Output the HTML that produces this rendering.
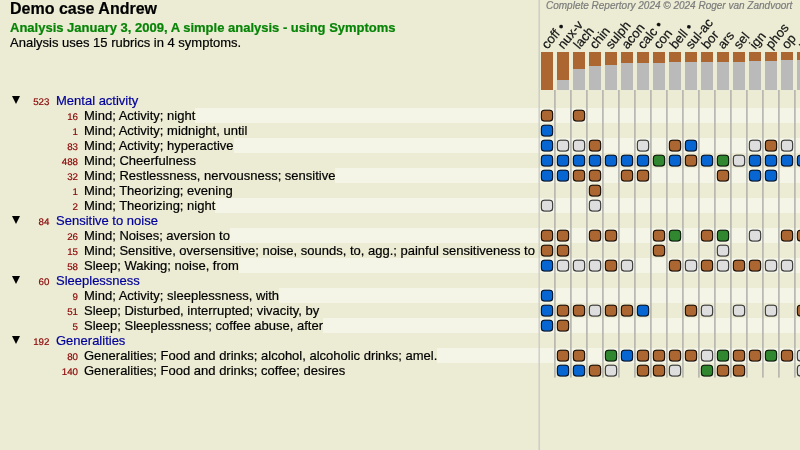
<!DOCTYPE html><html><head><meta charset="utf-8"><title>Analysis</title><style>
html,body{margin:0;padding:0}
body{width:800px;height:450px;overflow:hidden;background:#ecebd4;font-family:"Liberation Sans",Arial,Helvetica,sans-serif;position:relative;color:#000;-webkit-text-stroke:0.2px}
div,span{position:absolute;white-space:nowrap}
.t1{left:10px;top:-1px;font-size:16px;font-weight:bold;line-height:19px}
.t2{left:10px;top:20px;font-size:13px;font-weight:bold;color:#068406;line-height:15px}
.t3{left:10px;top:35px;font-size:13px;line-height:15px}
.st{left:0;width:800px;height:15px;background:#f5f5e7}
.tx{font-size:13px;line-height:15px;height:15px;background:#ecebd4;left:0;padding-left:84px}
.hd{font-size:13px;line-height:15px;height:15px;left:56px;color:#000099}
.nm{text-rendering:geometricPrecision;font-size:10px;line-height:15px;height:15px;color:#8a0808;transform:scale(0.975,0.96);transform-origin:100% 72%;text-align:right;width:40px}
.nh{transform:translateX(0.45px) scale(0.975,0.96)}
.tri{left:12px;width:0;height:0;border-left:4px solid transparent;border-right:4px solid transparent;border-top:8px solid #000}
.vl{width:1.6px;background:#b2b2ac;top:90px;height:288px}
.c{box-sizing:border-box;width:12.2px;height:11.8px;border:1px solid #222;border-radius:3.5px;box-shadow:0 0 1px rgba(0,0,0,.45)}
.bar{width:12px;top:52px;height:38px;background:#bababa}
.bar i{display:block;background:#ab6632;width:12px}
.lb{font-size:13px;line-height:13px;transform-origin:0 100%;transform:rotate(-50.5deg);color:#111}
.cr{left:546px;top:0px;font-size:10px;line-height:12px;font-style:italic;color:#7c7c7c}

</style></head><body>
<div class="t1">Demo case Andrew</div>
<div class="t2">Analysis January 3, 2009, A simple analysis - using Symptoms</div>
<div class="t3">Analysis uses 15 rubrics in 4 symptoms.</div>
<div class="st" style="top:108px"></div>
<div class="st" style="top:138px"></div>
<div class="st" style="top:168px"></div>
<div class="st" style="top:198px"></div>
<div class="st" style="top:228px"></div>
<div class="st" style="top:258px"></div>
<div class="st" style="top:288px"></div>
<div class="st" style="top:318px"></div>
<div class="st" style="top:348px"></div>
<div class="tri" style="top:96px"></div>
<div class="nm nh" style="left:9px;top:94.5px">523</div>
<div class="hd" style="top:93px">Mental activity</div>
<div class="tx" style="top:108px">Mind; Activity; night</div>
<div class="nm" style="left:38px;top:109.5px">16</div>
<div class="tx" style="top:123px">Mind; Activity; midnight, until</div>
<div class="nm" style="left:38px;top:124.5px">1</div>
<div class="tx" style="top:138px">Mind; Activity; hyperactive</div>
<div class="nm" style="left:38px;top:139.5px">83</div>
<div class="tx" style="top:153px">Mind; Cheerfulness</div>
<div class="nm" style="left:38px;top:154.5px">488</div>
<div class="tx" style="top:168px">Mind; Restlessness, nervousness; sensitive</div>
<div class="nm" style="left:38px;top:169.5px">32</div>
<div class="tx" style="top:183px">Mind; Theorizing; evening</div>
<div class="nm" style="left:38px;top:184.5px">1</div>
<div class="tx" style="top:198px">Mind; Theorizing; night</div>
<div class="nm" style="left:38px;top:199.5px">2</div>
<div class="tri" style="top:216px"></div>
<div class="nm nh" style="left:9px;top:214.5px">84</div>
<div class="hd" style="top:213px">Sensitive to noise</div>
<div class="tx" style="top:228px">Mind; Noises; aversion to</div>
<div class="nm" style="left:38px;top:229.5px">26</div>
<div class="tx" style="top:243px">Mind; Sensitive, oversensitive; noise, sounds, to, agg.; painful sensitiveness to</div>
<div class="nm" style="left:38px;top:244.5px">15</div>
<div class="tx" style="top:258px">Sleep; Waking; noise, from</div>
<div class="nm" style="left:38px;top:259.5px">58</div>
<div class="tri" style="top:276px"></div>
<div class="nm nh" style="left:9px;top:274.5px">60</div>
<div class="hd" style="top:273px">Sleeplessness</div>
<div class="tx" style="top:288px">Mind; Activity; sleeplessness, with</div>
<div class="nm" style="left:38px;top:289.5px">9</div>
<div class="tx" style="top:303px">Sleep; Disturbed, interrupted; vivacity, by</div>
<div class="nm" style="left:38px;top:304.5px">51</div>
<div class="tx" style="top:318px">Sleep; Sleeplessness; coffee abuse, after</div>
<div class="nm" style="left:38px;top:319.5px">5</div>
<div class="tri" style="top:336px"></div>
<div class="nm nh" style="left:9px;top:334.5px">192</div>
<div class="hd" style="top:333px">Generalities</div>
<div class="tx" style="top:348px">Generalities; Food and drinks; alcohol, alcoholic drinks; amel.</div>
<div class="nm" style="left:38px;top:349.5px">80</div>
<div class="tx" style="top:363px">Generalities; Food and drinks; coffee; desires</div>
<div class="nm" style="left:38px;top:364.5px">140</div>
<div class="bar" style="left:541px"><i style="height:38px"></i></div>
<div class="lb" style="left:548.8px;top:38.0px">coff •</div>
<div class="bar" style="left:557px"><i style="height:28px"></i></div>
<div class="lb" style="left:564.8px;top:38.0px">nux-v</div>
<div class="bar" style="left:573px"><i style="height:17px"></i></div>
<div class="lb" style="left:580.8px;top:38.0px">lach</div>
<div class="bar" style="left:589px"><i style="height:14px"></i></div>
<div class="lb" style="left:596.8px;top:38.0px">chin</div>
<div class="bar" style="left:605px"><i style="height:13px"></i></div>
<div class="lb" style="left:612.8px;top:38.0px">sulph</div>
<div class="bar" style="left:621px"><i style="height:11px"></i></div>
<div class="lb" style="left:628.8px;top:38.0px">acon</div>
<div class="bar" style="left:637px"><i style="height:11px"></i></div>
<div class="lb" style="left:644.8px;top:38.0px">calc •</div>
<div class="bar" style="left:653px"><i style="height:11px"></i></div>
<div class="lb" style="left:660.8px;top:38.0px">con</div>
<div class="bar" style="left:669px"><i style="height:10px"></i></div>
<div class="lb" style="left:676.8px;top:38.0px">bell •</div>
<div class="bar" style="left:685px"><i style="height:10px"></i></div>
<div class="lb" style="left:692.8px;top:38.0px">sul-ac</div>
<div class="bar" style="left:701px"><i style="height:10px"></i></div>
<div class="lb" style="left:708.8px;top:38.0px">bor</div>
<div class="bar" style="left:717px"><i style="height:10px"></i></div>
<div class="lb" style="left:724.8px;top:38.0px">ars</div>
<div class="bar" style="left:733px"><i style="height:10px"></i></div>
<div class="lb" style="left:740.8px;top:38.0px">sel</div>
<div class="bar" style="left:749px"><i style="height:9px"></i></div>
<div class="lb" style="left:756.8px;top:38.0px">ign</div>
<div class="bar" style="left:765px"><i style="height:9px"></i></div>
<div class="lb" style="left:772.8px;top:38.0px">phos</div>
<div class="bar" style="left:781px"><i style="height:8px"></i></div>
<div class="lb" style="left:788.8px;top:38.0px">op</div>
<div class="bar" style="left:797px"><i style="height:8px"></i></div>
<div class="lb" style="left:804.8px;top:38.0px">puls</div>
<svg style="position:absolute;left:0;top:0" width="800" height="450" viewBox="0 0 800 450">
<rect x="538.55" y="0" width="1.25" height="450" fill="#c6c6c6"/>
<rect x="554.1" y="90" width="1.6" height="287.6" fill="#b4b4ae"/>
<rect x="570.1" y="90" width="1.6" height="287.6" fill="#b4b4ae"/>
<rect x="586.1" y="90" width="1.6" height="287.6" fill="#b4b4ae"/>
<rect x="602.1" y="90" width="1.6" height="287.6" fill="#b4b4ae"/>
<rect x="618.1" y="90" width="1.6" height="287.6" fill="#b4b4ae"/>
<rect x="634.1" y="90" width="1.6" height="287.6" fill="#b4b4ae"/>
<rect x="650.1" y="90" width="1.6" height="287.6" fill="#b4b4ae"/>
<rect x="666.1" y="90" width="1.6" height="287.6" fill="#b4b4ae"/>
<rect x="682.1" y="90" width="1.6" height="287.6" fill="#b4b4ae"/>
<rect x="698.1" y="90" width="1.6" height="287.6" fill="#b4b4ae"/>
<rect x="714.1" y="90" width="1.6" height="287.6" fill="#b4b4ae"/>
<rect x="730.1" y="90" width="1.6" height="287.6" fill="#b4b4ae"/>
<rect x="746.1" y="90" width="1.6" height="287.6" fill="#b4b4ae"/>
<rect x="762.1" y="90" width="1.6" height="287.6" fill="#b4b4ae"/>
<rect x="778.1" y="90" width="1.6" height="287.6" fill="#b4b4ae"/>
<rect x="794.1" y="90" width="1.6" height="287.6" fill="#b4b4ae"/>
<g stroke-width="1.05" style="filter:drop-shadow(0 0.3px 0.5px rgba(0,0,0,.5))">
<rect x="541.4" y="110.2" width="11.2" height="10.8" rx="3" fill="#ab6632" stroke="#1c1006"/>
<rect x="573.4" y="110.2" width="11.2" height="10.8" rx="3" fill="#ab6632" stroke="#1c1006"/>
<rect x="541.4" y="125.2" width="11.2" height="10.8" rx="3" fill="#0766d2" stroke="#06142c"/>
<rect x="541.4" y="140.2" width="11.2" height="10.8" rx="3" fill="#0766d2" stroke="#06142c"/>
<rect x="557.4" y="140.2" width="11.2" height="10.8" rx="3" fill="#dedede" stroke="#3c3c3c"/>
<rect x="573.4" y="140.2" width="11.2" height="10.8" rx="3" fill="#dedede" stroke="#3c3c3c"/>
<rect x="589.4" y="140.2" width="11.2" height="10.8" rx="3" fill="#ab6632" stroke="#1c1006"/>
<rect x="637.4" y="140.2" width="11.2" height="10.8" rx="3" fill="#dedede" stroke="#3c3c3c"/>
<rect x="669.4" y="140.2" width="11.2" height="10.8" rx="3" fill="#ab6632" stroke="#1c1006"/>
<rect x="685.4" y="140.2" width="11.2" height="10.8" rx="3" fill="#0766d2" stroke="#06142c"/>
<rect x="749.4" y="140.2" width="11.2" height="10.8" rx="3" fill="#dedede" stroke="#3c3c3c"/>
<rect x="765.4" y="140.2" width="11.2" height="10.8" rx="3" fill="#ab6632" stroke="#1c1006"/>
<rect x="781.4" y="140.2" width="11.2" height="10.8" rx="3" fill="#dedede" stroke="#3c3c3c"/>
<rect x="541.4" y="155.2" width="11.2" height="10.8" rx="3" fill="#0766d2" stroke="#06142c"/>
<rect x="557.4" y="155.2" width="11.2" height="10.8" rx="3" fill="#0766d2" stroke="#06142c"/>
<rect x="573.4" y="155.2" width="11.2" height="10.8" rx="3" fill="#0766d2" stroke="#06142c"/>
<rect x="589.4" y="155.2" width="11.2" height="10.8" rx="3" fill="#0766d2" stroke="#06142c"/>
<rect x="605.4" y="155.2" width="11.2" height="10.8" rx="3" fill="#0766d2" stroke="#06142c"/>
<rect x="621.4" y="155.2" width="11.2" height="10.8" rx="3" fill="#0766d2" stroke="#06142c"/>
<rect x="637.4" y="155.2" width="11.2" height="10.8" rx="3" fill="#0766d2" stroke="#06142c"/>
<rect x="653.4" y="155.2" width="11.2" height="10.8" rx="3" fill="#30872f" stroke="#0a1c0a"/>
<rect x="669.4" y="155.2" width="11.2" height="10.8" rx="3" fill="#0766d2" stroke="#06142c"/>
<rect x="685.4" y="155.2" width="11.2" height="10.8" rx="3" fill="#ab6632" stroke="#1c1006"/>
<rect x="701.4" y="155.2" width="11.2" height="10.8" rx="3" fill="#0766d2" stroke="#06142c"/>
<rect x="717.4" y="155.2" width="11.2" height="10.8" rx="3" fill="#30872f" stroke="#0a1c0a"/>
<rect x="733.4" y="155.2" width="11.2" height="10.8" rx="3" fill="#dedede" stroke="#3c3c3c"/>
<rect x="749.4" y="155.2" width="11.2" height="10.8" rx="3" fill="#0766d2" stroke="#06142c"/>
<rect x="765.4" y="155.2" width="11.2" height="10.8" rx="3" fill="#0766d2" stroke="#06142c"/>
<rect x="781.4" y="155.2" width="11.2" height="10.8" rx="3" fill="#0766d2" stroke="#06142c"/>
<rect x="797.4" y="155.2" width="11.2" height="10.8" rx="3" fill="#0766d2" stroke="#06142c"/>
<rect x="541.4" y="170.2" width="11.2" height="10.8" rx="3" fill="#0766d2" stroke="#06142c"/>
<rect x="557.4" y="170.2" width="11.2" height="10.8" rx="3" fill="#0766d2" stroke="#06142c"/>
<rect x="573.4" y="170.2" width="11.2" height="10.8" rx="3" fill="#ab6632" stroke="#1c1006"/>
<rect x="589.4" y="170.2" width="11.2" height="10.8" rx="3" fill="#ab6632" stroke="#1c1006"/>
<rect x="621.4" y="170.2" width="11.2" height="10.8" rx="3" fill="#ab6632" stroke="#1c1006"/>
<rect x="637.4" y="170.2" width="11.2" height="10.8" rx="3" fill="#ab6632" stroke="#1c1006"/>
<rect x="717.4" y="170.2" width="11.2" height="10.8" rx="3" fill="#ab6632" stroke="#1c1006"/>
<rect x="749.4" y="170.2" width="11.2" height="10.8" rx="3" fill="#0766d2" stroke="#06142c"/>
<rect x="765.4" y="170.2" width="11.2" height="10.8" rx="3" fill="#0766d2" stroke="#06142c"/>
<rect x="589.4" y="185.2" width="11.2" height="10.8" rx="3" fill="#ab6632" stroke="#1c1006"/>
<rect x="541.4" y="200.2" width="11.2" height="10.8" rx="3" fill="#dedede" stroke="#3c3c3c"/>
<rect x="589.4" y="200.2" width="11.2" height="10.8" rx="3" fill="#dedede" stroke="#3c3c3c"/>
<rect x="541.4" y="230.2" width="11.2" height="10.8" rx="3" fill="#ab6632" stroke="#1c1006"/>
<rect x="557.4" y="230.2" width="11.2" height="10.8" rx="3" fill="#ab6632" stroke="#1c1006"/>
<rect x="589.4" y="230.2" width="11.2" height="10.8" rx="3" fill="#ab6632" stroke="#1c1006"/>
<rect x="605.4" y="230.2" width="11.2" height="10.8" rx="3" fill="#ab6632" stroke="#1c1006"/>
<rect x="653.4" y="230.2" width="11.2" height="10.8" rx="3" fill="#ab6632" stroke="#1c1006"/>
<rect x="669.4" y="230.2" width="11.2" height="10.8" rx="3" fill="#30872f" stroke="#0a1c0a"/>
<rect x="701.4" y="230.2" width="11.2" height="10.8" rx="3" fill="#ab6632" stroke="#1c1006"/>
<rect x="717.4" y="230.2" width="11.2" height="10.8" rx="3" fill="#30872f" stroke="#0a1c0a"/>
<rect x="749.4" y="230.2" width="11.2" height="10.8" rx="3" fill="#dedede" stroke="#3c3c3c"/>
<rect x="781.4" y="230.2" width="11.2" height="10.8" rx="3" fill="#ab6632" stroke="#1c1006"/>
<rect x="797.4" y="230.2" width="11.2" height="10.8" rx="3" fill="#ab6632" stroke="#1c1006"/>
<rect x="541.4" y="245.2" width="11.2" height="10.8" rx="3" fill="#ab6632" stroke="#1c1006"/>
<rect x="557.4" y="245.2" width="11.2" height="10.8" rx="3" fill="#ab6632" stroke="#1c1006"/>
<rect x="653.4" y="245.2" width="11.2" height="10.8" rx="3" fill="#ab6632" stroke="#1c1006"/>
<rect x="717.4" y="245.2" width="11.2" height="10.8" rx="3" fill="#dedede" stroke="#3c3c3c"/>
<rect x="541.4" y="260.2" width="11.2" height="10.8" rx="3" fill="#0766d2" stroke="#06142c"/>
<rect x="557.4" y="260.2" width="11.2" height="10.8" rx="3" fill="#dedede" stroke="#3c3c3c"/>
<rect x="573.4" y="260.2" width="11.2" height="10.8" rx="3" fill="#dedede" stroke="#3c3c3c"/>
<rect x="589.4" y="260.2" width="11.2" height="10.8" rx="3" fill="#dedede" stroke="#3c3c3c"/>
<rect x="605.4" y="260.2" width="11.2" height="10.8" rx="3" fill="#ab6632" stroke="#1c1006"/>
<rect x="621.4" y="260.2" width="11.2" height="10.8" rx="3" fill="#dedede" stroke="#3c3c3c"/>
<rect x="669.4" y="260.2" width="11.2" height="10.8" rx="3" fill="#ab6632" stroke="#1c1006"/>
<rect x="685.4" y="260.2" width="11.2" height="10.8" rx="3" fill="#dedede" stroke="#3c3c3c"/>
<rect x="701.4" y="260.2" width="11.2" height="10.8" rx="3" fill="#ab6632" stroke="#1c1006"/>
<rect x="717.4" y="260.2" width="11.2" height="10.8" rx="3" fill="#dedede" stroke="#3c3c3c"/>
<rect x="733.4" y="260.2" width="11.2" height="10.8" rx="3" fill="#ab6632" stroke="#1c1006"/>
<rect x="749.4" y="260.2" width="11.2" height="10.8" rx="3" fill="#ab6632" stroke="#1c1006"/>
<rect x="765.4" y="260.2" width="11.2" height="10.8" rx="3" fill="#dedede" stroke="#3c3c3c"/>
<rect x="781.4" y="260.2" width="11.2" height="10.8" rx="3" fill="#dedede" stroke="#3c3c3c"/>
<rect x="541.4" y="290.2" width="11.2" height="10.8" rx="3" fill="#0766d2" stroke="#06142c"/>
<rect x="541.4" y="305.2" width="11.2" height="10.8" rx="3" fill="#0766d2" stroke="#06142c"/>
<rect x="557.4" y="305.2" width="11.2" height="10.8" rx="3" fill="#ab6632" stroke="#1c1006"/>
<rect x="573.4" y="305.2" width="11.2" height="10.8" rx="3" fill="#ab6632" stroke="#1c1006"/>
<rect x="589.4" y="305.2" width="11.2" height="10.8" rx="3" fill="#dedede" stroke="#3c3c3c"/>
<rect x="605.4" y="305.2" width="11.2" height="10.8" rx="3" fill="#ab6632" stroke="#1c1006"/>
<rect x="621.4" y="305.2" width="11.2" height="10.8" rx="3" fill="#ab6632" stroke="#1c1006"/>
<rect x="637.4" y="305.2" width="11.2" height="10.8" rx="3" fill="#0766d2" stroke="#06142c"/>
<rect x="685.4" y="305.2" width="11.2" height="10.8" rx="3" fill="#ab6632" stroke="#1c1006"/>
<rect x="701.4" y="305.2" width="11.2" height="10.8" rx="3" fill="#dedede" stroke="#3c3c3c"/>
<rect x="733.4" y="305.2" width="11.2" height="10.8" rx="3" fill="#dedede" stroke="#3c3c3c"/>
<rect x="765.4" y="305.2" width="11.2" height="10.8" rx="3" fill="#dedede" stroke="#3c3c3c"/>
<rect x="797.4" y="305.2" width="11.2" height="10.8" rx="3" fill="#ab6632" stroke="#1c1006"/>
<rect x="541.4" y="320.2" width="11.2" height="10.8" rx="3" fill="#0766d2" stroke="#06142c"/>
<rect x="557.4" y="320.2" width="11.2" height="10.8" rx="3" fill="#ab6632" stroke="#1c1006"/>
<rect x="557.4" y="350.2" width="11.2" height="10.8" rx="3" fill="#ab6632" stroke="#1c1006"/>
<rect x="573.4" y="350.2" width="11.2" height="10.8" rx="3" fill="#ab6632" stroke="#1c1006"/>
<rect x="605.4" y="350.2" width="11.2" height="10.8" rx="3" fill="#30872f" stroke="#0a1c0a"/>
<rect x="621.4" y="350.2" width="11.2" height="10.8" rx="3" fill="#0766d2" stroke="#06142c"/>
<rect x="637.4" y="350.2" width="11.2" height="10.8" rx="3" fill="#ab6632" stroke="#1c1006"/>
<rect x="653.4" y="350.2" width="11.2" height="10.8" rx="3" fill="#ab6632" stroke="#1c1006"/>
<rect x="669.4" y="350.2" width="11.2" height="10.8" rx="3" fill="#ab6632" stroke="#1c1006"/>
<rect x="685.4" y="350.2" width="11.2" height="10.8" rx="3" fill="#ab6632" stroke="#1c1006"/>
<rect x="701.4" y="350.2" width="11.2" height="10.8" rx="3" fill="#dedede" stroke="#3c3c3c"/>
<rect x="717.4" y="350.2" width="11.2" height="10.8" rx="3" fill="#30872f" stroke="#0a1c0a"/>
<rect x="733.4" y="350.2" width="11.2" height="10.8" rx="3" fill="#ab6632" stroke="#1c1006"/>
<rect x="749.4" y="350.2" width="11.2" height="10.8" rx="3" fill="#ab6632" stroke="#1c1006"/>
<rect x="765.4" y="350.2" width="11.2" height="10.8" rx="3" fill="#30872f" stroke="#0a1c0a"/>
<rect x="781.4" y="350.2" width="11.2" height="10.8" rx="3" fill="#ab6632" stroke="#1c1006"/>
<rect x="797.4" y="350.2" width="11.2" height="10.8" rx="3" fill="#dedede" stroke="#3c3c3c"/>
<rect x="557.4" y="365.2" width="11.2" height="10.8" rx="3" fill="#0766d2" stroke="#06142c"/>
<rect x="573.4" y="365.2" width="11.2" height="10.8" rx="3" fill="#0766d2" stroke="#06142c"/>
<rect x="589.4" y="365.2" width="11.2" height="10.8" rx="3" fill="#ab6632" stroke="#1c1006"/>
<rect x="605.4" y="365.2" width="11.2" height="10.8" rx="3" fill="#dedede" stroke="#3c3c3c"/>
<rect x="637.4" y="365.2" width="11.2" height="10.8" rx="3" fill="#ab6632" stroke="#1c1006"/>
<rect x="653.4" y="365.2" width="11.2" height="10.8" rx="3" fill="#ab6632" stroke="#1c1006"/>
<rect x="669.4" y="365.2" width="11.2" height="10.8" rx="3" fill="#dedede" stroke="#3c3c3c"/>
<rect x="701.4" y="365.2" width="11.2" height="10.8" rx="3" fill="#30872f" stroke="#0a1c0a"/>
<rect x="717.4" y="365.2" width="11.2" height="10.8" rx="3" fill="#ab6632" stroke="#1c1006"/>
<rect x="733.4" y="365.2" width="11.2" height="10.8" rx="3" fill="#ab6632" stroke="#1c1006"/>
<rect x="797.4" y="365.2" width="11.2" height="10.8" rx="3" fill="#dedede" stroke="#3c3c3c"/>
</g></svg>
<div class="cr">Complete Repertory 2024 © 2024 Roger van Zandvoort</div>
</body></html>
